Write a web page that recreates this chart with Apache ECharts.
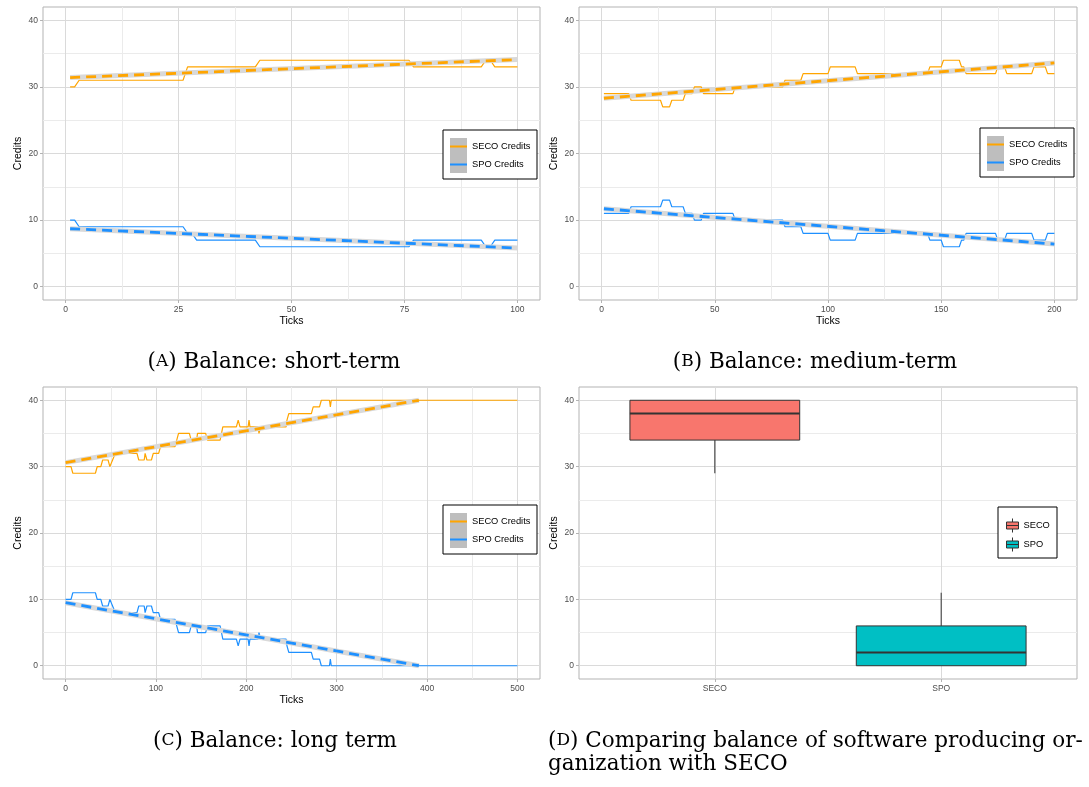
<!DOCTYPE html>
<html><head><meta charset="utf-8">
<script src="https://cdn.jsdelivr.net/npm/echarts@6/dist/echarts.min.js"></script>
<style>html,body{margin:0;padding:0;background:#fff}#c{width:1089px;height:787px}</style>
</head><body><div id="c"></div>
<script>
// ================= DATA =================
const lineNames = ['SECO Credits', 'SPO Credits'];
const axisTitleX = 'Ticks';
const axisTitleY = 'Credits';

// (A) short-term: [tick, credits] breakpoints of the step-like series
const shortSECO = [[1,30],[2,30],[3,31],[26,31],[27,33],[42,33],[43,34],[76,34],[77,33],[92,33],[93,34],[94,34],[95,33],[100,33]];
const shortSPO  = [[1,10],[2,10],[3,9],[26,9],[27,8],[28,8],[29,7],[42,7],[43,6],[76,6],[77,7],[92,7],[93,6],[94,6],[95,7],[100,7]];
const shortTrendSECO = [[1,31.4],[100,34.1]];
const shortTrendSPO  = [[1,8.7],[100,5.8]];

// (B) medium-term
const mediumSECO = [[1,29],[12,29],[13,28],[26,28],[27,27],[30,27],[31,28],[36,28],[37,29],[40,29],[41,30],[44,30],[45,29],[58,29],[59,30],[80,30],[81,31],[88,31],[89,32],[100,32],[101,33],[112,33],[113,32],[144,32],[145,33],[150,33],[151,34],[158,34],[159,33],[160,33],[161,32],[174,32],[175,33],[178,33],[179,32],[190,32],[191,33],[196,33],[197,32],[200,32]];
const mediumSPO  = [[1,11],[12,11],[13,12],[26,12],[27,13],[30,13],[31,12],[36,12],[37,11],[40,11],[41,10],[44,10],[45,11],[58,11],[59,10],[80,10],[81,9],[88,9],[89,8],[100,8],[101,7],[112,7],[113,8],[144,8],[145,7],[150,7],[151,6],[158,6],[159,7],[160,7],[161,8],[174,8],[175,7],[178,7],[179,8],[190,8],[191,7],[196,7],[197,8],[200,8]];
const mediumTrendSECO = [[1,28.3],[200,33.6]];
const mediumTrendSPO  = [[1,11.7],[200,6.4]];

// (C) long term
const longSECO = [[0,30],[6,30],[8,29],[33,29],[35,30],[39,30],[41,31],[47,31],[49,30],[50,30],[52,31],[53,31],[55,32],[79,32],[81,31],[87,31],[88,32],[89,32],[90,31],[95,31],[97,32],[103,32],[105,33],[121,33],[123,34],[125,35],[137,35],[139,34],[145,34],[146,35],[155,35],[157,34],[171,34],[174,36],[189,36],[191,37],[192,37],[193,36],[202,36],[203,37],[204,36],[213,36],[214,35],[216,36],[244,36],[245,37],[247,38],[272,38],[274,39],[281,39],[283,40],[292,40],[293,39],[294,40],[500,40]];
const longSPO  = [[0,10],[6,10],[8,11],[33,11],[35,10],[39,10],[41,9],[47,9],[49,10],[50,10],[52,9],[53,9],[55,8],[79,8],[81,9],[87,9],[88,8],[89,8],[90,9],[95,9],[97,8],[103,8],[105,7],[121,7],[123,6],[125,5],[137,5],[139,6],[145,6],[146,5],[155,5],[157,6],[171,6],[174,4],[189,4],[191,3],[192,3],[193,4],[202,4],[203,3],[204,4],[213,4],[214,5],[216,4],[244,4],[245,3],[247,2],[272,2],[274,1],[281,1],[283,0],[292,0],[293,1],[294,0],[500,0]];
const longTrendSECO = [[0,30.6],[391,40]];
const longTrendSPO  = [[0,9.5],[391,0]];

// (D) boxplot
const boxCategories = ['SECO', 'SPO'];
const boxStats = [[29,34,38,40,40],[0,0,2,6,11]]; // lower whisker, Q1, median, Q3, upper whisker

// axis ticks
const yTicks = {min:0, max:40, step:10};
const xTicksShort = {min:0, max:100, step:25};
const xTicksMedium = {min:0, max:200, step:50};
const xTicksLong = {min:0, max:500, step:100};

const captions = [
  {pre:'(', sc:'A', post:') Balance: short-term'},
  {pre:'(', sc:'B', post:') Balance: medium-term'},
  {pre:'(', sc:'C', post:') Balance: long term'},
  {pre:'(', sc:'D', post:') Comparing balance of software producing or-'},
  {pre:'', sc:'', post:'ganization with SECO'}
];

// ================= STYLE / LAYOUT =================
const ORANGE = '#FFA500', BLUE = '#1E90FF';
const BOXCOL = ['#F8766D', '#00BFC4'];
const FONT = '"Liberation Sans", Arial, sans-serif';
const SERIF = '"DejaVu Serif", serif';
const GRID_MAJOR = '#DADADA', GRID_MINOR = '#EBEBEB', BORDER = '#B3B3B3', TICKLAB = '#4D4D4D';

const grid = [], xAxis = [], yAxis = [], series = [], graphic = [];
function addGrid(r) { grid.push({left:r.left, top:r.top, width:r.width, height:r.height, containLabel:false, show:!!r.show, borderColor:BORDER, borderWidth:1, backgroundColor:'transparent'}); return grid.length - 1; }
function hidden(g, min, max) { return {gridIndex:g, type:'value', min:min, max:max, show:false}; }

function frame(P, xr, discrete) {
  let inL, inW;
  if (discrete) { inL = P.l + P.w * 0.6 / 2.2; inW = P.w / 2.2; }
  else { inL = P.l + P.w * 0.05 / 1.1; inW = P.w / 1.1; }
  const inT = P.t + P.h * 2 / 44, inH = P.h * 40 / 44;
  let g = addGrid({left:P.l, top:P.t, width:P.w, height:P.h, show:true});
  xAxis.push(hidden(g, 0, 1)); yAxis.push(hidden(g, 0, 1));
  g = addGrid({left:inL, top:P.t, width:inW, height:P.h});
  xAxis.push({
    gridIndex:g, type:'value', min:xr.min, max:xr.max, interval:xr.step,
    name: discrete ? '' : axisTitleX, nameLocation:'middle', nameGap:16,
    nameTextStyle:{fontFamily:FONT, fontSize:10.5, color:'#000'},
    axisLine:{show:false},
    axisTick:{show:true, length:3, lineStyle:{color:BORDER, width:1}},
    axisLabel:{margin:5, fontFamily:FONT, fontSize:8.5, color:TICKLAB,
      formatter: discrete ? (v => boxCategories[Math.round(v) - 1] || '') : (v => String(v))},
    splitLine:{show:true, lineStyle:{color:GRID_MAJOR, width:1}},
    minorTick:{show:false, splitNumber:2},
    minorSplitLine:{show:!discrete, lineStyle:{color:GRID_MINOR, width:1}}
  });
  yAxis.push(hidden(g, 0, 1));
  g = addGrid({left:P.l, top:inT, width:P.w, height:inH});
  xAxis.push(hidden(g, 0, 1));
  yAxis.push({
    gridIndex:g, type:'value', min:yTicks.min, max:yTicks.max, interval:yTicks.step,
    name:axisTitleY, nameLocation:'middle', nameGap:19,
    nameTextStyle:{fontFamily:FONT, fontSize:10.5, color:'#000'},
    axisLine:{show:false},
    axisTick:{show:true, length:3, lineStyle:{color:BORDER, width:1}},
    axisLabel:{margin:5, fontFamily:FONT, fontSize:8.5, color:TICKLAB},
    splitLine:{show:true, lineStyle:{color:GRID_MAJOR, width:1}},
    minorTick:{show:false, splitNumber:2},
    minorSplitLine:{show:true, lineStyle:{color:GRID_MINOR, width:1}}
  });
  g = addGrid({left:inL, top:inT, width:inW, height:inH});
  xAxis.push(hidden(g, xr.min, xr.max));
  yAxis.push(hidden(g, yTicks.min, yTicks.max));
  return g;
}

function lineSeries(g, name, data, color) {
  series.push({type:'line', name:name, xAxisIndex:g, yAxisIndex:g, data:data, symbol:'none', showSymbol:false,
    lineStyle:{color:color, width:1.2}, itemStyle:{color:color}, clip:false, z:3, silent:true});
}
function trendSeries(g, name, data, color) {
  series.push({type:'line', name:'_se_' + name, xAxisIndex:g, yAxisIndex:g, data:data, symbol:'none',
    lineStyle:{color:'#D9D9D9', width:5, cap:'butt'}, itemStyle:{color:'#D9D9D9'}, clip:false, z:4, silent:true});
  series.push({type:'line', name:name, xAxisIndex:g, yAxisIndex:g, data:data, symbol:'none',
    lineStyle:{color:color, width:2.8, type:[10,6], cap:'butt'}, itemStyle:{color:color}, clip:false, z:5, silent:true});
}

const legends = [];
function addLineLegend(bx, by) {
  graphic.push({type:'rect', z:20, shape:{x:bx, y:by, width:94, height:49}, style:{fill:'#fff', stroke:'#000', lineWidth:1}});
  graphic.push({type:'rect', z:21, shape:{x:bx + 7, y:by + 8, width:17, height:35}, style:{fill:'#BEBEBE'}});
  legends.push({
    orient:'vertical', left:bx, top:by, padding:[8,6,5,7], itemGap:1, itemWidth:17, itemHeight:17,
    z:30, selectedMode:false, symbolKeepAspect:true,
    textStyle:{fontFamily:FONT, fontSize:9.3, color:'#000', lineHeight:17},
    data:[
      {name:lineNames[0], icon:'path://M0,0H17V2H0Z', itemStyle:{color:ORANGE}},
      {name:lineNames[1], icon:'path://M0,0H17V2H0Z', itemStyle:{color:BLUE}}
    ]
  });
}

const panels = {
  A:{l:43, t:7, w:497, h:293},
  B:{l:579, t:7, w:498, h:293},
  C:{l:43, t:387, w:497, h:292},
  D:{l:579, t:387, w:498, h:292}
};

// Panel A
let g = frame(panels.A, xTicksShort, false);
lineSeries(g, lineNames[0], shortSECO, ORANGE);
lineSeries(g, lineNames[1], shortSPO, BLUE);
trendSeries(g, lineNames[0], shortTrendSECO, ORANGE);
trendSeries(g, lineNames[1], shortTrendSPO, BLUE);
addLineLegend(443, 130);

// Panel B
g = frame(panels.B, xTicksMedium, false);
lineSeries(g, lineNames[0], mediumSECO, ORANGE);
lineSeries(g, lineNames[1], mediumSPO, BLUE);
trendSeries(g, lineNames[0], mediumTrendSECO, ORANGE);
trendSeries(g, lineNames[1], mediumTrendSPO, BLUE);
addLineLegend(980, 128);

// Panel C
g = frame(panels.C, xTicksLong, false);
lineSeries(g, lineNames[0], longSECO, ORANGE);
lineSeries(g, lineNames[1], longSPO, BLUE);
trendSeries(g, lineNames[0], longTrendSECO, ORANGE);
trendSeries(g, lineNames[1], longTrendSPO, BLUE);
addLineLegend(443, 505);

// Panel D
g = frame(panels.D, {min:1, max:2, step:1}, true);
const BOX_W = 0.75;
function boxRender(params, api) {
  const x = api.value(0);
  const lo = api.coord([x, api.value(1)])[1], q1 = api.coord([x, api.value(2)])[1],
        med = api.coord([x, api.value(3)])[1], q3 = api.coord([x, api.value(4)])[1],
        hi = api.coord([x, api.value(5)])[1];
  const cx = api.coord([x, 0])[0];
  const half = api.size([BOX_W / 2, 0])[0];
  const fill = api.visual('color');
  return {type:'group', children:[
    {type:'line', shape:{x1:cx, y1:q1, x2:cx, y2:lo}, style:{stroke:'#333', lineWidth:1}},
    {type:'line', shape:{x1:cx, y1:q3, x2:cx, y2:hi}, style:{stroke:'#333', lineWidth:1}},
    {type:'rect', shape:{x:cx - half, y:q3, width:2 * half, height:q1 - q3}, style:{fill:fill, stroke:'#333', lineWidth:1}},
    {type:'line', shape:{x1:cx - half, y1:med, x2:cx + half, y2:med}, style:{stroke:'#333', lineWidth:2}}
  ]};
}
boxCategories.forEach((c, i) => {
  series.push({type:'custom', name:c, xAxisIndex:g, yAxisIndex:g, renderItem:boxRender, clip:false, z:3, silent:true,
    itemStyle:{color:BOXCOL[i]}, encode:{x:0, y:[1,2,3,4,5]},
    data:[[i + 1].concat(boxStats[i])]});
});
graphic.push({type:'rect', z:20, shape:{x:998, y:507, width:59, height:51}, style:{fill:'#fff', stroke:'#000', lineWidth:1}});
legends.push({
  orient:'vertical', left:998, top:507, padding:[11,6,6,8], itemGap:4, itemWidth:12, itemHeight:14,
  z:30, selectedMode:false, symbolKeepAspect:false,
  itemStyle:{borderColor:'#333', borderWidth:1},
  textStyle:{fontFamily:FONT, fontSize:9.3, color:'#000'},
  data: boxCategories.map((c, i) => ({name:c, icon:'path://M0,3.5H12V10.5H0Z M0,7H12 M6,0V3.5 M6,10.5V14',
    itemStyle:{color:BOXCOL[i], borderColor:'#333', borderWidth:1}}))
});

// Captions
function caption(c, x, y, align) {
  graphic.push({type:'text', z:40, style:{
    x:x, y:y, align:align, verticalAlign:'middle',
    text: c.pre + (c.sc ? '{s|' + c.sc + '}' : '') + c.post,
    font:'21.5px ' + SERIF, fill:'#000',
    rich:{s:{fontSize:17, fontFamily:SERIF, fill:'#000', color:'#000'}}
  }});
}
caption(captions[0], 274, 362, 'center');
caption(captions[1], 815, 362, 'center');
caption(captions[2], 275, 741, 'center');
caption(captions[3], 548, 741, 'left');
caption(captions[4], 548, 764, 'left');

const chart = echarts.init(document.getElementById('c'));
chart.setOption({
  animation:false,
  backgroundColor:'#fff',
  grid:grid, xAxis:xAxis, yAxis:yAxis, series:series, legend:legends, graphic:graphic
});
</script>
</body></html>
